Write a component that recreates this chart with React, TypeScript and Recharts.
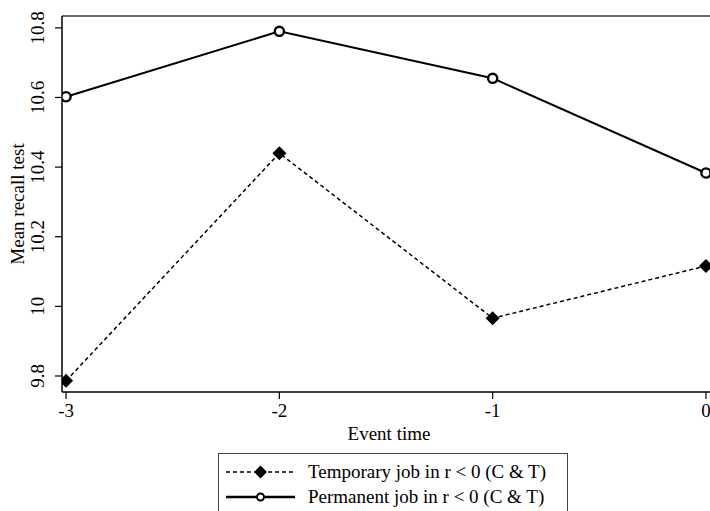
import { Line, LineChart, ReferenceLine, XAxis, YAxis } from "recharts";

// Stata-style event-time plot, serif everywhere, black ink on white.
const SERIF = '"Liberation Serif", "Times New Roman", serif';
const INK = "#000";
const FS = 19;

const eventTimes = [-3, -2, -1, 0];
const temporaryJob = [9.786, 10.44, 9.966, 10.116];
const permanentJob = [10.602, 10.79, 10.655, 10.383];
const recallTicks = [9.8, 10, 10.2, 10.4, 10.6, 10.8];
const seriesNames = ["Temporary job in r < 0 (C & T)", "Permanent job in r < 0 (C & T)"];

const data = eventTimes.map((t, i) => ({ t, temp: temporaryJob[i], perm: permanentJob[i] }));

const X_DOMAIN: [number, number] = [-3.019, 0.019];
const Y_DOMAIN: [number, number] = [9.754, 10.834];

const diamondPath = (cx: number, cy: number, r: number) =>
  `M${cx},${cy - r}L${cx + r},${cy}L${cx},${cy + r}L${cx - r},${cy}Z`;

function YTick({ y, payload }: any) {
  const x = 44;
  return (
    <text x={x} y={y} transform={`rotate(-90 ${x} ${y})`} textAnchor="middle" fontFamily={SERIF} fontSize={FS} fill={INK}>
      {payload.value}
    </text>
  );
}

function XTick({ x, payload }: any) {
  return (
    <text x={x} y={417} textAnchor="middle" fontFamily={SERIF} fontSize={FS} fill={INK}>
      {payload.value}
    </text>
  );
}

function LegendBox() {
  return (
    <div
      style={{
        position: "absolute",
        left: 218,
        top: 453,
        width: 350,
        height: 80,
        border: "1.5px solid #444",
        boxSizing: "border-box",
        background: "#fff",
      }}
    >
      <svg width={348} height={78} style={{ display: "block" }}>
        <line x1={7} x2={76} y1={18} y2={18} stroke={INK} strokeWidth={1.5} strokeDasharray="4 3" />
        <path d={diamondPath(41.5, 18, 6.5)} fill={INK} />
        <text x={89} y={24} fontFamily={SERIF} fontSize={FS} fill={INK}>{seriesNames[0]}</text>
        <line x1={7} x2={76} y1={43} y2={43} stroke={INK} strokeWidth={2.5} />
        <circle cx={41.5} cy={43} r={3.5} fill="#fff" stroke={INK} strokeWidth={2} />
        <text x={89} y={49} fontFamily={SERIF} fontSize={FS} fill={INK}>{seriesNames[1]}</text>
      </svg>
    </div>
  );
}

export default function App() {
  return (
    <div style={{ position: "fixed", left: 0, top: 0, width: 710, height: 511, overflow: "hidden", background: "#fff" }}>
      <LineChart width={710} height={511} data={data} margin={{ top: 16, right: 0, left: 0, bottom: 0 }}>
        <XAxis
          type="number"
          dataKey="t"
          domain={X_DOMAIN}
          ticks={eventTimes}
          allowDataOverflow
          height={119}
          tickSize={7}
          tick={<XTick />}
          axisLine={{ stroke: INK, strokeWidth: 1.5 }}
          tickLine={{ stroke: INK, strokeWidth: 1.2 }}
          label={{
            content: () => (
              <text x={389} y={440} textAnchor="middle" fontFamily={SERIF} fontSize={FS} fill={INK}>
                Event time
              </text>
            ),
          }}
        />
        <YAxis
          type="number"
          domain={Y_DOMAIN}
          ticks={recallTicks}
          allowDataOverflow
          width={62}
          tickSize={7}
          tick={<YTick />}
          axisLine={{ stroke: INK, strokeWidth: 1.5 }}
          tickLine={{ stroke: INK, strokeWidth: 1.2 }}
          label={{
            content: () => (
              <text x={24} y={204} transform="rotate(-90 24 204)" textAnchor="middle" fontFamily={SERIF} fontSize={FS} fill={INK}>
                Mean recall test
              </text>
            ),
          }}
        />
        <ReferenceLine y={Y_DOMAIN[1]} stroke="#333" strokeWidth={1.5} />
        <Line
          dataKey="temp"
          name={seriesNames[0]}
          type="linear"
          stroke={INK}
          strokeWidth={1.5}
          strokeDasharray="4 3"
          isAnimationActive={false}
          activeDot={false}
          dot={(p: any) => <path key={`tmp-${p.index}`} d={diamondPath(p.cx, p.cy, 7)} fill={INK} />}
        />
        <Line
          dataKey="perm"
          name={seriesNames[1]}
          type="linear"
          stroke={INK}
          strokeWidth={2}
          isAnimationActive={false}
          activeDot={false}
          dot={(p: any) => (
            <circle key={`prm-${p.index}`} cx={p.cx} cy={p.cy} r={4.6} fill="#fff" stroke={INK} strokeWidth={2.4} />
          )}
        />
      </LineChart>
      <LegendBox />
    </div>
  );
}
